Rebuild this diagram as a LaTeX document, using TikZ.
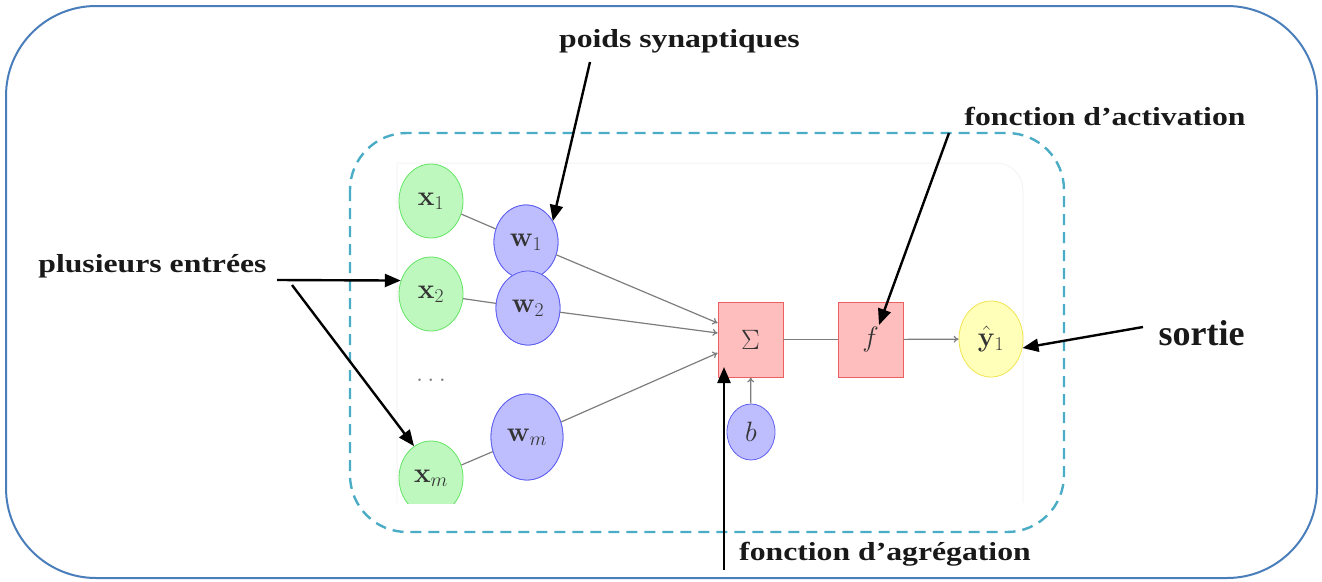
\RequirePackage{fix-cm}
\documentclass[tikz,border=0pt]{standalone}
\usepackage[no-math]{fontspec}
\usetikzlibrary{shapes.geometric,arrows.meta}
\newfontfamily\annotfont[FakeStretch=1.22]{Liberation Serif}
\newfontfamily\outfont{Liberation Serif}

\definecolor{frameblue}{RGB}{74,126,187}
\definecolor{dashaqua}{RGB}{75,172,198}
\definecolor{inpfill}{RGB}{190,248,190}
\definecolor{inpdraw}{RGB}{100,228,100}
\definecolor{wfill}{RGB}{190,190,255}
\definecolor{wdraw}{RGB}{95,95,240}
\definecolor{sumfill}{RGB}{255,190,190}
\definecolor{sumdraw}{RGB}{240,95,95}
\definecolor{outfill}{RGB}{255,255,185}
\definecolor{outdraw}{RGB}{240,228,80}
\definecolor{netgray}{RGB}{125,125,125}

\tikzset{
  unit/.style={ellipse, inner sep=0pt, line width=0.8pt,
    font=\fontsize{28}{33}\selectfont, text=black!80},
  inpunit/.style={unit, draw=inpdraw, fill=inpfill,
    minimum width=64pt, minimum height=74pt},
  wunit/.style={unit, draw=wdraw, fill=wfill,
    minimum width=64pt, minimum height=74pt},
  outunit/.style={unit, draw=outdraw, fill=outfill,
    minimum width=64pt, minimum height=76pt},
  opbox/.style={rectangle, inner sep=0pt, line width=0.8pt,
    draw=sumdraw, fill=sumfill, minimum width=65pt, minimum height=75pt,
    font=\fontsize{28}{33}\selectfont, text=black!80},
  netline/.style={draw=netgray, line width=1.2pt},
  netarrow/.style={netline, -{To[length=5pt,width=7pt]}},
  annarrow/.style={draw=black, line width=2.4pt,
    -{Triangle[length=16pt,width=13pt]}},
  annot/.style={anchor=base, inner sep=0pt, text=black!90,
    font=\annotfont\bfseries\fontsize{26}{30}\selectfont},
}

\begin{document}
\begin{tikzpicture}[x=1pt,y=-1pt]
\useasboundingbox (0,0) rectangle (1322,581);

% outer frame
\draw[frameblue, line width=2pt, rounded corners=90pt] (6,6) rectangle (1317,578);

% faint panel behind the neuron
\draw[gray!9, line width=1pt] (397,503) -- (397,163)
  [rounded corners=27pt] -- (1023,163) -- (1023,503);

% dashed neuron outline
\draw[dashaqua, line width=2.4pt, dash pattern=on 11pt off 7pt,
  rounded corners=57pt] (350,133) rectangle (1064,532);

% the neuron
\begin{scope}
\clip (397,150) rectangle (1030,503);
\node[inpunit] (x1) at (431,201) {$\mathbf{x}_1$};
\node[inpunit] (x2) at (431,294) {$\mathbf{x}_2$};
\node[inpunit] (xm) at (431,478) {$\mathbf{x}_m$};
\node[text=netgray, font=\fontsize{26}{31}\selectfont, inner sep=0pt]
  (dots) at (431,380) {$\ldots$};

\node[wunit] (w1) at (526,242) {};
\node[wunit] (w2) at (528,308) {};
\node[wunit, minimum width=72pt, minimum height=86pt] (wm) at (527,437) {};

\draw[netline] (x1) -- (w1);
\draw[netline] (x2) -- (w2);
\draw[netline] (xm) -- (wm);

\node[wunit] at (w1) {$\mathbf{w}_1$};
\node[wunit] at (w2) {$\mathbf{w}_2$};
\node[wunit, minimum width=72pt, minimum height=86pt] at (wm) {$\mathbf{w}_m$};

\node[opbox] (S) at (750.5,339.5) {$\Sigma$};
\node[opbox] (f) at (870.5,339.5) {$f$};
\node[outunit] (y1) at (991,339) {$\hat{\mathbf{y}}_1$};
\node[unit, draw=wdraw, fill=wfill, minimum width=48pt, minimum height=56pt]
  (b) at (751,432) {$b$};

\draw[netarrow] (w1) -- ([yshift=16.5pt]S.west);
\draw[netarrow] (w2) -- ([yshift=6.5pt]S.west);
\draw[netarrow] (wm) -- ([yshift=-13.5pt]S.west);
\draw[netarrow] (b) -- (S);
\draw[netline] (S) -- (f);
\draw[netarrow] (f) -- (y1);
\end{scope}

% annotations
\node[annot] (tPoids) at (679.5,47) {poids synaptiques};
\node[annot] (tAct) at (1105,125) {fonction d’activation};
\node[annot] (tEnt) at (152.5,272) {plusieurs entrées};
\node[annot] (tAgr) at (885,560) {fonction d’agrégation};
\node[anchor=base, inner sep=0pt, text=black!90,
  font=\outfont\bfseries\fontsize{36}{41}\selectfont] (tSort) at (1201.5,345) {sortie};

\coordinate (pStart) at (590,62);
\coordinate (aStart) at (949,133);
\coordinate (sStart) at (1143,327);
\coordinate (e1Start) at (277,280);
\coordinate (e2Start) at (292,285);
\coordinate (gStart) at (724,570);
\coordinate (gTip) at ([shift={(-26.5,27.5)}]S.center);

\draw[annarrow] (pStart) -- (w1.38);
\draw[annarrow] (aStart) -- ([shift={(8.5,-14.5)}]f.center);
\draw[annarrow] (sStart) -- (y1.-16);
\draw[annarrow] (e1Start) -- (x2.156);
\draw[annarrow] (e2Start) -- (xm.118);
\draw[annarrow] (gStart) -- (gStart |- gTip);
\end{tikzpicture}
\end{document}
